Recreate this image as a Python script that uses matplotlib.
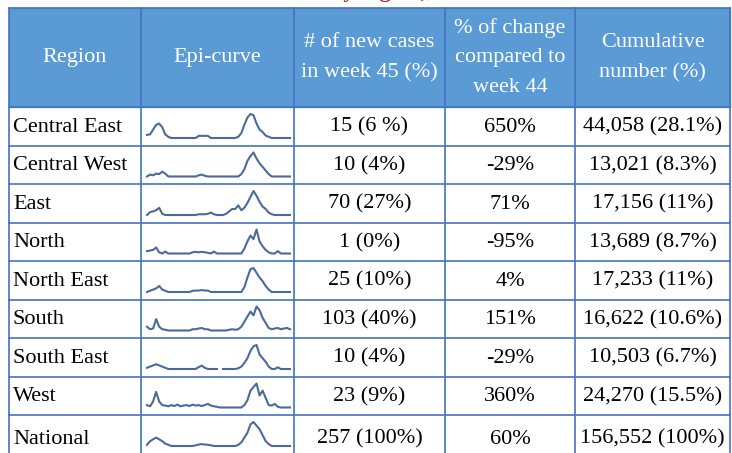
import numpy as np
import matplotlib
matplotlib.use("Agg")
from matplotlib import pyplot as plt
from matplotlib.patches import Rectangle

plt.rcParams['font.family'] = ['Liberation Serif', 'DejaVu Serif']

# table content
headers = ["Region", "Epi-curve", "# of new cases\nin week 45 (%)",
           "% of change\ncompared to\nweek 44", "Cumulative\nnumber (%)"]
regions = ["Central East", "Central West", "East", "North", "North East",
           "South", "South East", "West", "National"]
new_cases = ["15 (6 %)", "10 (4%)", "70 (27%)", "1 (0%)", "25 (10%)",
             "103 (40%)", "10 (4%)", "23 (9%)", "257 (100%)"]
change = ["650%", "-29%", "71%", "-95%", "4%", "151%", "-29%", "360%", "60%"]
cumulative = ["44,058 (28.1%)", "13,021 (8.3%)", "17,156 (11%)", "13,689 (8.7%)",
              "17,233 (11%)", "16,622 (10.6%)", "10,503 (6.7%)", "24,270 (15.5%)",
              "156,552 (100%)"]

# epi-curves, relative weekly counts
epi_central_east = [13, 15, 35, 55, 60, 45, 15, 5, 0, 0, 0, 0, 0, 0, 0, 0, 0, 9, 9, 9, 9, 0,
                    0, 0, 0, 0, 0, 0, 0, 0, 5, 20, 55, 85, 100, 95, 60, 35, 25, 10, 5,
                    0, 0, 0, 0, 0, 0, 0]
epi_central_west = [0, 8, 5, 12, 10, 20, 12, 0, 0, 0, 0, 0, 0, 0, 0, 0, 0, 5, 8, 3, 0, 0,
                    0, 0, 0, 0, 0, 0, 0, 0, 0, 10, 30, 65, 85, 100, 75, 55, 40, 25, 10,
                    0, 0, 0, 0, 0, 0, 0]
epi_east = [0, 12, 15, 20, 30, 5, 0, 0, 0, 0, 0, 0, 0, 0, 0, 0, 0, 3, 3, 3, 5, 10, 3, 0,
            0, 0, 5, 15, 25, 25, 40, 20, 30, 50, 75, 100, 80, 55, 35, 25, 10, 3,
            0, 0, 0, 0, 0, 0]
epi_north = [10, 12, 15, 25, 5, 0, 8, 0, 0, 0, 0, 0, 0, 0, 0, 5, 7, 5, 7, 5, 3, 0, 8, 0,
             0, 0, 0, 0, 0, 0, 0, 0, 20, 50, 75, 60, 100, 50, 30, 15, 5,
             0, 0, 10, 0, 0, 0, 0]
epi_north_east = [0, 5, 10, 15, 25, 10, 5, 0, 0, 0, 0, 0, 0, 0, 0, 5, 6, 6, 8, 6, 6, 0,
                  0, 0, 0, 0, 0, 0, 0, 0, 0, 0, 20, 60, 95, 100, 80, 60, 45, 25, 10,
                  0, 0, 0, 0, 0, 0, 0]
epi_south = [15, 5, 8, 45, 15, 5, 3, 0, 0, 0, 0, 0, 0, 0, 0, 5, 5, 8, 10, 5, 5, 0,
             0, 0, 0, 0, 0, 3, 5, 3, 5, 15, 35, 55, 75, 60, 95, 80, 50, 30, 10,
             5, 8, 10, 5, 8, 10, 5]
epi_south_east = [5, 10, 15, 20, 15, 10, 5, 0, 0, 0, 0, 0, 0, 0, 0, 0, 0, 8, 14, 5, 0, 0,
                  0, 0, np.nan, 0, 0, 0, 0, 0, 3, 10, 25, 45, 75, 95, 100, 60, 45, 30, 10,
                  0, 0, 7, 0, 0, 0, 0]
epi_west = [10, 5, 25, 65, 25, 10, 8, 5, 10, 6, 12, 5, 8, 10, 6, 12, 8, 10, 6, 10, 15, 8,
            5, 3, 0, 0, 0, 0, 0, 0, 0, 0, 10, 30, 70, 85, 100, 50, 70, 40, 10,
            8, 15, 3, 0, 0, 0, 0]
epi_national = [5, 20, 28, 35, 28, 20, 10, 5, 0, 0, 0, 0, 0, 0, 0, 0, 3, 6, 8, 6, 5, 3,
                0, 0, 0, 0, 0, 0, 0, 0, 5, 15, 35, 55, 90, 100, 85, 70, 45, 20, 8,
                0, 0, 0, 0, 0, 0, 0]
epi_curves = [epi_central_east, epi_central_west, epi_east, epi_north, epi_north_east,
              epi_south, epi_south_east, epi_west, epi_national]

W, H = 732, 453
grid_col = '#4472C4'
head_col = '#5B9BD5'
spark_col = '#4A6A9C'

col_edges = [9, 141, 294, 445, 575, 730]
row_edges = [8, 107, 145.5, 184, 222.5, 261, 299.5, 338, 376.5, 415, 453.5]

fig = plt.figure(figsize=(W / 100, H / 100), dpi=100)
ax = fig.add_axes([0, 0, 1, 1])
ax.set_xlim(0, W)
ax.set_ylim(H, 0)
ax.axis('off')

# title above the table, mostly cut off by the top edge
ax.text(331, -3, "by region),", color='#A5282C', fontsize=16, fontweight='bold',
        ha='left', va='baseline')

# header band
ax.add_patch(Rectangle((col_edges[0], row_edges[0]), col_edges[-1] - col_edges[0],
                       row_edges[1] - row_edges[0], color=head_col, zorder=0))

for x in col_edges:
    ax.plot([x, x], [row_edges[0], H + 5], color=grid_col, lw=1.2, zorder=3)
for y in row_edges:
    ax.plot([col_edges[0], col_edges[-1]], [y, y], color=grid_col, lw=1.2, zorder=3)

fs = 16
hy = (row_edges[0] + row_edges[1]) / 2
for j, h in enumerate(headers):
    xc = (col_edges[j] + col_edges[j + 1]) / 2
    ax.text(xc, hy, h, color='white', fontsize=fs, ha='center', va='center',
            linespacing=1.78, multialignment='center')

for i in range(len(regions)):
    yc = (row_edges[i + 1] + row_edges[i + 2]) / 2 + 1
    if i == len(regions) - 1:
        yc = 439
    ax.text(col_edges[0] + 4, yc, regions[i], fontsize=fs, ha='left', va='center')
    for j, col in [(2, new_cases), (3, change), (4, cumulative)]:
        xc = (col_edges[j] + col_edges[j + 1]) / 2
        ax.text(xc, yc, col[i], fontsize=fs, ha='center', va='center')

    # sparkline
    top = row_edges[i + 1]
    base = top + 31
    peak = top + 7
    sax = fig.add_axes([147 / W, 1 - base / H, 143 / W, (base - peak) / H])
    vals = epi_curves[i]
    sax.plot(np.arange(len(vals)), vals, color=spark_col, lw=1.5, clip_on=False)
    sax.set_xlim(0, len(vals) - 1)
    sax.set_ylim(0, max(v for v in vals if v == v))
    sax.axis('off')

plt.savefig('out.png', dpi=100)
